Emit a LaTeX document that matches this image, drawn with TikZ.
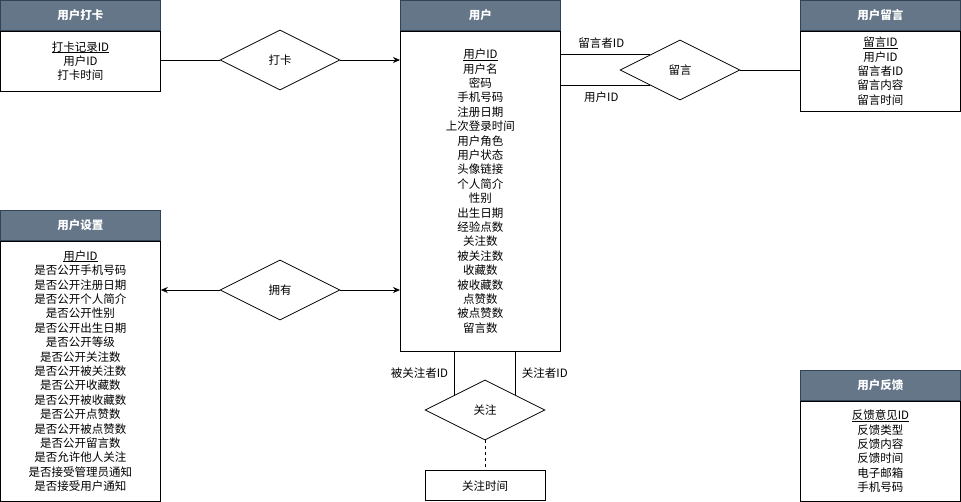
\documentclass[tikz,border=0pt]{standalone}
\usepackage{fontspec}
\setmainfont{Noto Sans CJK SC}
\usetikzlibrary{shapes.geometric}
\usetikzlibrary{arrows.meta}
\usetikzlibrary{positioning}
\definecolor{headfill}{HTML}{647687}
\definecolor{headline}{HTML}{314354}
\newcommand{\keyattr}[1]{\setbox0\hbox{#1}\rlap{\rule[-1.6pt]{\wd0}{0.6pt}}\box0}

\begin{document}
\begin{tikzpicture}[x=1pt, y=-1pt, line width=0.8pt,
    font=\fontsize{11.5}{14.4}\selectfont,
    ehead/.style={draw=headline, fill=headfill, text=white, font=\bfseries\fontsize{11.5}{14}\selectfont,
        minimum width=160pt, minimum height=30pt, inner sep=0pt, anchor=north west},
    ebody/.style={draw, minimum width=160pt, inner sep=0pt, align=center},
    rel/.style={draw, diamond, minimum width=120pt, minimum height=60pt, inner sep=0pt},
    arr/.style={-{Stealth[length=7pt, width=6pt]}}]
    \useasboundingbox (0,0) rectangle (961,501);

    % entities
    \node[ehead] (dakaHead) at (0,0) {用户打卡};
    \node[ebody, minimum height=60pt, below=0pt of dakaHead] (dakaBody)
        {\keyattr{打卡记录ID}\\用户ID\\打卡时间};

    \node[ehead] (userHead) at (400,0) {用户};
    \node[ebody, minimum height=320pt, below=0pt of userHead] (userBody)
        {\keyattr{用户ID}\\用户名\\密码\\手机号码\\注册日期\\上次登录时间\\用户角色\\用户状态\\头像链接\\个人简介\\性别\\出生日期\\经验点数\\关注数\\被关注数\\收藏数\\被收藏数\\点赞数\\被点赞数\\留言数};

    \node[ehead] (msgHead) at (800,0) {用户留言};
    \node[ebody, minimum height=80pt, below=0pt of msgHead] (msgBody)
        {\keyattr{留言ID}\\用户ID\\留言者ID\\留言内容\\留言时间};

    \node[ehead] (setHead) at (0,210) {用户设置};
    \node[ebody, minimum height=260pt, below=0pt of setHead] (setBody)
        {\keyattr{用户ID}\\是否公开手机号码\\是否公开注册日期\\是否公开个人简介\\是否公开性别\\是否公开出生日期\\是否公开等级\\是否公开关注数\\是否公开被关注数\\是否公开收藏数\\是否公开被收藏数\\是否公开点赞数\\是否公开被点赞数\\是否公开留言数\\是否允许他人关注\\是否接受管理员通知\\是否接受用户通知};

    \node[ehead] (fbHead) at (800,370) {用户反馈};
    \node[ebody, minimum height=100pt, below=0pt of fbHead] (fbBody)
        {\keyattr{反馈意见ID}\\反馈类型\\反馈内容\\反馈时间\\电子邮箱\\手机号码};

    % relations
    \node[rel] (dakaRel) at (280,60) {打卡};
    \node[rel] (msgRel) at (680,70) {留言};
    \node[rel] (ownRel) at (280,290) {拥有};
    \node[rel] (followRel) at (485,410) {关注};
    \node[draw, minimum width=120pt, minimum height=30pt, inner sep=0pt, below=30pt of followRel] (followTime) {关注时间};

    % connectors
    \draw (dakaRel.west -| dakaBody.east) -- (dakaRel.west);
    \draw[arr] (dakaRel.east) -- (dakaRel.east -| userBody.west);
    \draw[arr] (ownRel.west) -- (ownRel.west -| setBody.east);
    \draw[arr] (ownRel.east) -- (ownRel.east -| userBody.west);
    \draw (msgRel.north west -| userBody.east) -- (msgRel.north west) node[midway, above=3pt, xshift=-4pt] {留言者ID};
    \draw (msgRel.south west -| userBody.east) -- (msgRel.south west) node[midway, below=3pt, xshift=-4pt] {用户ID};
    \draw (msgRel.east) -- (msgRel.east -| msgBody.west);
    \draw (followRel.north west |- userBody.south) -- (followRel.north west) node[midway, left=3pt] {被关注者ID};
    \draw (followRel.north east |- userBody.south) -- (followRel.north east) node[midway, right=3pt] {关注者ID};
    \draw[dashed] (followRel.south) -- (followTime.north);
\end{tikzpicture}
\end{document}
